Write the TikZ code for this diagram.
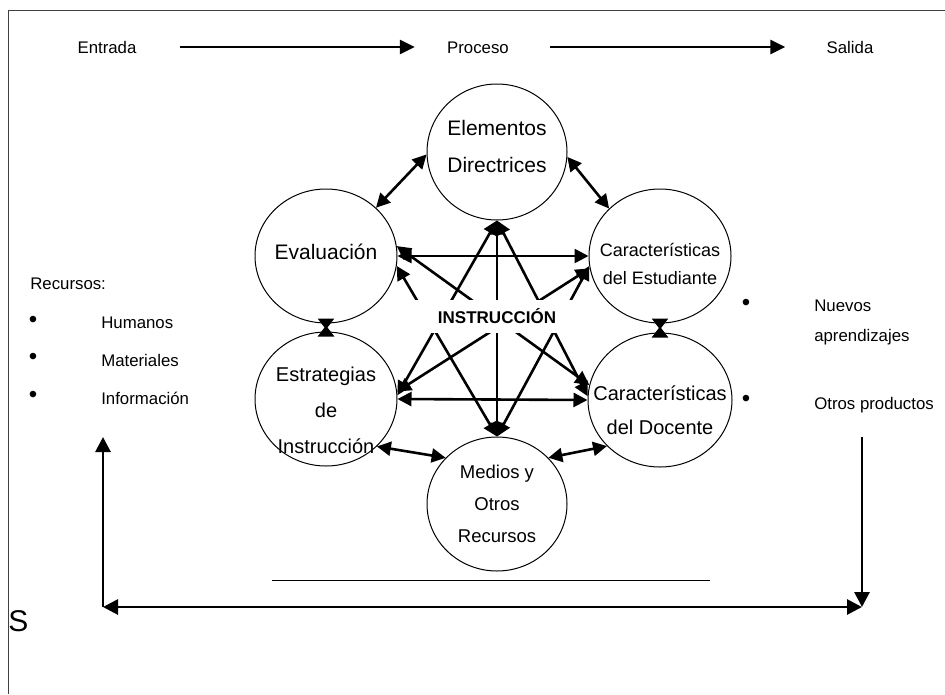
\documentclass[tikz,border=0pt]{standalone}
\usepackage{fontspec}
\setmainfont{Liberation Sans}
\usetikzlibrary{arrows.meta, shapes.geometric}

\begin{document}
\begin{tikzpicture}[
            x = 1pt, y = -1pt, % pixel units, y downwards
            > = {Triangle[length=14pt, width=14pt]}, % arrow head style
            line width = 2.6pt, % line style
            font = \fontsize{16.8}{20}\selectfont
        ]

        \tikzstyle{elem}=[
            draw = black,
            line width = 1pt,
            ellipse,
            minimum width = 142pt,
            minimum height = 134pt,
            inner sep = 0pt
        ]
        \tikzstyle{elemtext}=[
            align = center,
            inner sep = 0pt,
            font = \fontsize{21}{37}\selectfont
        ]
        \tikzstyle{lbl}=[
            inner sep = 0pt,
            text height = 12pt,
            text depth = 0pt
        ]
        \tikzstyle{dot}=[
            inner sep = 0pt,
            font = \fontsize{24}{24}\selectfont
        ]

        \useasboundingbox (0,0) rectangle (945,694);
        \draw[line width = 0.8pt, black!75] (945,10) -- (8,10) -- (8,694);

        % entrada - proceso - salida
        \node (en) [lbl] at (107,47) {Entrada};
        \node (pr) [lbl] at (478,47) {Proceso};
        \node (sa) [lbl] at (850,47) {Salida};
        \path[->, line width = 2.8pt, > = {Triangle[length=15pt, width=14pt]}]
            (en) edge [shorten <= 42pt, shorten >= 31pt] (pr)
            (pr) edge [shorten <= 40pt, shorten >= 40pt] (sa);

        % elements of instruction
        \node (ed) [elem, minimum width = 140pt, minimum height = 136pt] at (497,152) {};
        \node (ev) [elem] at (326,256) {};
        \node (ce) [elem] at (660,256) {};
        \node (es) [elem] at (326,399) {};
        \node (cd) [elem, minimum width = 144pt] at (660,400) {};
        \node (mr) [elem, minimum width = 140pt] at (497,504) {};

        \node (ed-t) [elemtext] at (497,146) {Elementos\\Directrices};
        \node (ev-t) [elemtext] at (326,252) {Evaluación};
        \node (ce-t) [elemtext, font = \fontsize{18}{28}\selectfont] at (660,264) {Características\\del Estudiante};
        \node (es-t) [elemtext, font = \fontsize{20}{36}\selectfont] at (326,410) {Estrategias\\de\\Instrucción};
        \node (cd-t) [elemtext, font = \fontsize{20}{34}\selectfont] at (660,410) {Características\\del Docente};
        \node (mr-t) [elemtext, font = \fontsize{18.5}{32}\selectfont] at (497,504) {Medios y\\Otros\\Recursos};

        % neighbours
        \path[<->] (ed.182) edge (ev.44);
        \path[<->] (ed.356) edge (ce.137);
        \path[<->] (es.317) edge (mr.138);
        \path[<->] (mr.42) edge (cd.221);
        \path[>-<, > = {Triangle[length=11pt, width=16pt]}]
            (ev) edge [shorten <= -5pt, shorten >= -5pt] (es)
            (ce) edge [shorten <= -5pt, shorten >= -5pt] (cd);

        % across the centre
        \path[<->] (ed.south) edge (mr.north);
        \path[<->] (ed.south) edge (es.3);
        \path[<->] (ed.south) edge (cd.177);
        \path[<->] (ev.352) edge (mr.north);
        \path[<->] (ce.188) edge (mr.north);
        \path[<->] (ev.east) edge (ce.west);
        \path[<->] (es.east) edge (cd.west);
        \path[<->] (ev.8) edge (cd.168);
        \path[<->] (ce.190) edge (es.6);

        \node (in) [fill = white, minimum width = 178pt, minimum height = 33pt,
            font = \fontsize{17}{20}\selectfont\bfseries] at (497,316) {INSTRUCCIÓN};

        % recursos
        \node (rc) [lbl, anchor = west] at (29,283) {Recursos:};
        \node (b1) [dot] at (33,322) {\textbullet};
        \node (b2) [dot] at (33,359) {\textbullet};
        \node (b3) [dot] at (33,397) {\textbullet};
        \node (hu) [lbl, anchor = west] at (100,322) {Humanos};
        \node (ma) [lbl, anchor = west] at (100,360) {Materiales};
        \node (inf) [lbl, anchor = west] at (100,398) {Información};

        % productos
        \node (b4) [dot] at (746,305) {\textbullet};
        \node (b5) [dot] at (746,401) {\textbullet};
        \node (nu) [inner sep = 0pt, anchor = west, align = left,
            font = \fontsize{16.8}{30}\selectfont] at (813,322) {Nuevos\\aprendizajes};
        \node (ot) [lbl, anchor = west] at (813,403) {Otros productos};

        % feedback
        \coordinate (fl) at (103,437);
        \coordinate (fb) at (103,607);
        \coordinate (fr) at (862,607);
        \coordinate (ft) at (862,437);
        \path[line width = 2.8pt, > = {Triangle[length=15pt, width=15pt]}]
            (fb) edge [->] (fl)
            (fb) edge [<->] (fr)
            (ft) edge [->] (fr);

        \coordinate (ul) at (272,580);
        \coordinate (ur) at (710,580);
        \draw[line width = 0.8pt] (ul) -- (ur);

        \node (s) [lbl, anchor = west, text height = 21.5pt,
            font = \fontsize{30}{30}\selectfont] at (7,621) {S};

    \end{tikzpicture}
\end{document}
